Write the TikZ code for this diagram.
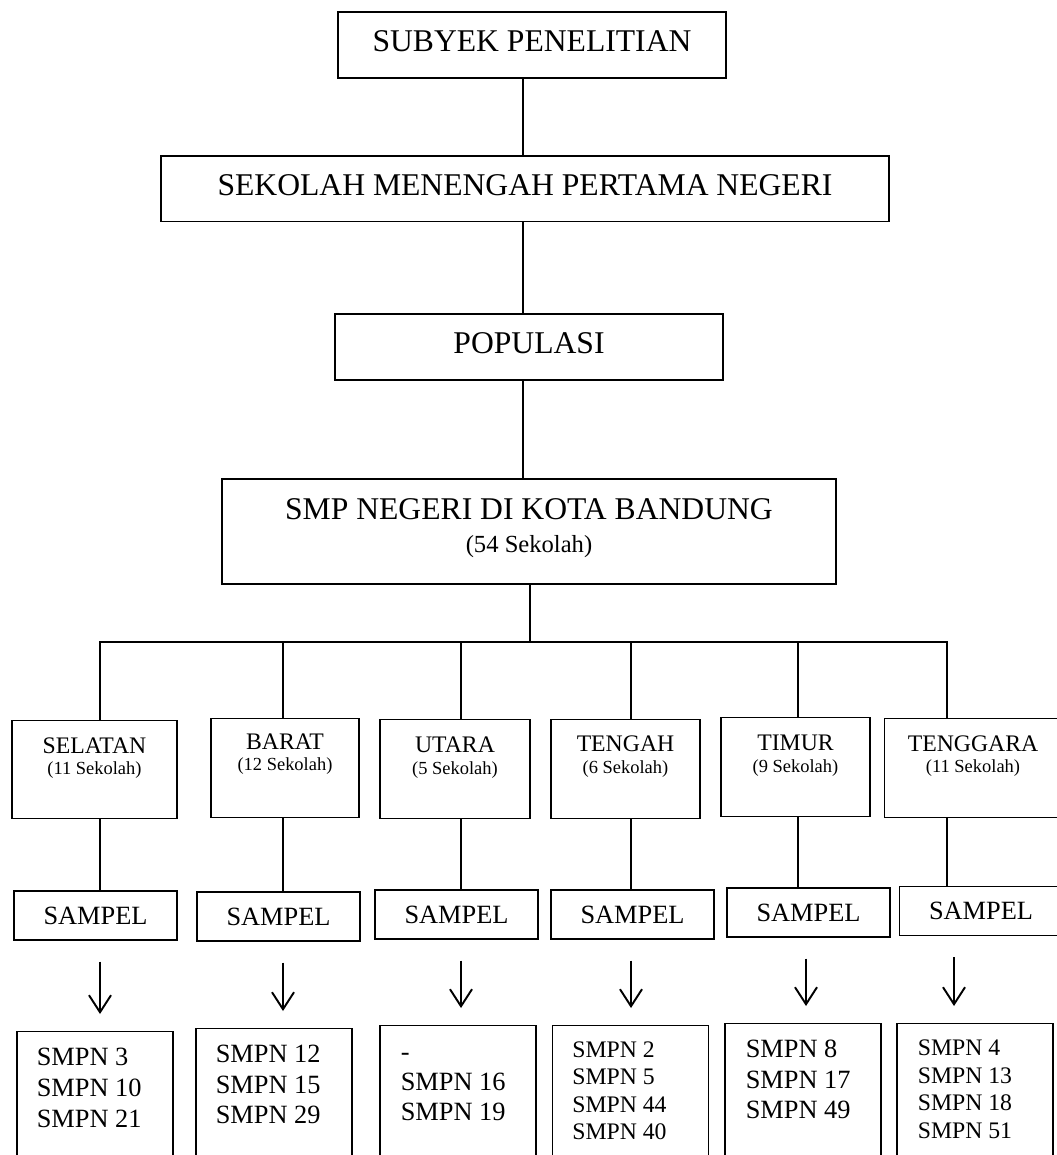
\documentclass[tikz,border=0pt]{standalone}
\usepackage{fontspec}
\setmainfont{Liberation Serif}
\usetikzlibrary{arrows.meta}
\tikzset{
  kotak/.style={draw,line width=0.6pt,inner sep=0pt,align=center},
  besar/.style={font=\fontsize{18}{16.4}\selectfont,text depth=0.16cm},
  wilayah/.style={kotak,minimum height=1.97cm},
  wiltxt/.style={inner sep=0pt,align=center,anchor=north,font=\fontsize{13.5}{12.3}\selectfont},
  sampel/.style={kotak,minimum width=3.26cm,minimum height=0.98cm,font=\fontsize{15}{18}\selectfont},
  daftar/.style={draw,line width=0.6pt,minimum width=3.12cm,minimum height=3.6cm,anchor=north},
  daftartxt/.style={inner sep=0pt,align=left,anchor=north west},
  garis/.style={line width=1.05pt},
  tebal/.style={line width=1.3pt},
  panah/.style={line width=1.1pt,-{Straight Barb[length=0.34cm,width=0.44cm]},shorten <=0.42cm,shorten >=0.34cm}
}
\newcommand{\kecil}{\fontsize{10.5}{12}\selectfont}

\begin{document}
\begin{tikzpicture}
  \useasboundingbox (0,0) rectangle (21.12,-23.1);
  % poros dan titik cabang
  \coordinate (poros) at (10.46,0);
  \coordinate (bus) at (10.6,-12.84);
  \coordinate (k1) at (2.0,-12.84);
  \coordinate (k2) at (5.66,-12.84);
  \coordinate (k3) at (9.22,-12.84);
  \coordinate (k4) at (12.62,-12.84);
  \coordinate (k5) at (15.96,-12.84);
  \coordinate (k6) at (18.94,-12.84);
  \coordinate (p5) at (16.12,0);
  \coordinate (p6) at (19.08,0);

  % bagian atas
  \node[kotak,besar,minimum width=7.76cm,minimum height=1.32cm] (subyek) at (10.64,-0.9) {SUBYEK PENELITIAN};
  \node[kotak,besar,minimum width=14.56cm,minimum height=1.31cm] (smpn) at (10.5,-3.775) {SEKOLAH MENENGAH PERTAMA NEGERI};
  \node[kotak,besar,minimum width=7.76cm,minimum height=1.32cm] (populasi) at (10.58,-6.94) {POPULASI};
  \node[kotak,font=\fontsize{18}{18.8}\selectfont,text depth=0.24cm,minimum width=12.28cm,minimum height=2.1cm] (bandung) at (10.58,-10.63)
    {SMP NEGERI DI KOTA BANDUNG\\{\fontsize{14}{16}\selectfont (54 Sekolah)}};

  \draw[garis] (subyek.south -| poros) -- (smpn.north -| poros);
  \draw[garis] (smpn.south -| poros) -- (populasi.north -| poros);
  \draw[garis] (populasi.south -| poros) -- (bandung.north -| poros);
  \draw[garis] (bandung.south -| bus) -- (bus);

  % wilayah
  \node[wilayah,minimum width=3.3cm] (selatan) at (1.89,-15.39) {};
  \node[wilayah,minimum width=2.96cm] (barat) at (5.7,-15.36) {};
  \node[wilayah,minimum width=3.0cm] (utara) at (9.1,-15.38) {};
  \node[wilayah,minimum width=2.98cm] (tengah) at (12.51,-15.38) {};
  \node[wilayah,minimum width=2.98cm] (timur) at (15.91,-15.34) {};
  \node[wilayah,minimum width=3.54cm] (tenggara) at (19.46,-15.36) {};
  \node[wiltxt] (tselatan) at ([yshift=-0.35cm]selatan.north) {SELATAN\\{\kecil(11 Sekolah)}};
  \node[wiltxt] (tbarat) at ([yshift=-0.3cm]barat.north) {BARAT\\{\kecil(12 Sekolah)}};
  \node[wiltxt] (tutara) at ([yshift=-0.35cm]utara.north) {UTARA\\{\kecil(5 Sekolah)}};
  \node[wiltxt] (ttengah) at ([yshift=-0.33cm]tengah.north) {TENGAH\\{\kecil(6 Sekolah)}};
  \node[wiltxt] (ttimur) at ([yshift=-0.35cm]timur.north) {TIMUR\\{\kecil(9 Sekolah)}};
  \node[wiltxt] (ttenggara) at ([yshift=-0.34cm]tenggara.north) {TENGGARA\\{\kecil(11 Sekolah)}};

  \draw[tebal] (selatan.north -| k1) -- (k1) -- (k6) -- (tenggara.north -| k6);
  \draw[tebal] (k2) -- (barat.north -| k2);
  \draw[tebal] (k3) -- (utara.north -| k3);
  \draw[tebal] (k4) -- (tengah.north -| k4);
  \draw[tebal] (k5) -- (timur.north -| k5);

  % sampel
  \node[sampel] (s1) at (1.91,-18.31) {SAMPEL};
  \node[sampel] (s2) at (5.57,-18.33) {SAMPEL};
  \node[sampel] (s3) at (9.13,-18.29) {SAMPEL};
  \node[sampel] (s4) at (12.65,-18.29) {SAMPEL};
  \node[sampel] (s5) at (16.17,-18.25) {SAMPEL};
  \node[sampel] (s6) at (19.62,-18.22) {SAMPEL};

  \draw[tebal] (selatan.south -| k1) -- (s1.north -| k1);
  \draw[tebal] (barat.south -| k2) -- (s2.north -| k2);
  \draw[tebal] (utara.south -| k3) -- (s3.north -| k3);
  \draw[tebal] (tengah.south -| k4) -- (s4.north -| k4);
  \draw[tebal] (timur.south -| k5) -- (s5.north -| k5);
  \draw[tebal] (tenggara.south -| k6) -- (s6.north -| k6);

  % daftar sekolah
  \node[daftar] (l1) at (1.9,-20.62) {};
  \node[daftar] (l2) at (5.48,-20.56) {};
  \node[daftar] (l3) at (9.16,-20.5) {};
  \node[daftar] (l4) at (12.61,-20.5) {};
  \node[daftar] (l5) at (16.06,-20.46) {};
  \node[daftar] (l6) at (19.5,-20.46) {};
  \node[daftartxt,font=\fontsize{15}{17.6}\selectfont] (tl1) at ([xshift=0.4cm,yshift=-0.34cm]l1.north west) {SMPN 3\\SMPN 10\\SMPN 21};
  \node[daftartxt,font=\fontsize{15}{17.3}\selectfont] (tl2) at ([xshift=0.4cm,yshift=-0.34cm]l2.north west) {SMPN 12\\SMPN 15\\SMPN 29};
  \node[daftartxt,font=\fontsize{15}{17}\selectfont] (tl3) at ([xshift=0.42cm,yshift=-0.36cm]l3.north west) {\vphantom{S}-\\SMPN 16\\SMPN 19};
  \node[daftartxt,font=\fontsize{13.5}{15.7}\selectfont] (tl4) at ([xshift=0.4cm,yshift=-0.32cm]l4.north west) {SMPN 2\\SMPN 5\\SMPN 44\\SMPN 40};
  \node[daftartxt,font=\fontsize{15}{17.2}\selectfont] (tl5) at ([xshift=0.42cm,yshift=-0.34cm]l5.north west) {SMPN 8\\SMPN 17\\SMPN 49};
  \node[daftartxt,font=\fontsize{13.5}{15.9}\selectfont] (tl6) at ([xshift=0.42cm,yshift=-0.32cm]l6.north west) {SMPN 4\\SMPN 13\\SMPN 18\\SMPN 51};

  \draw[panah] (s1.south -| k1) -- (l1.north -| k1);
  \draw[panah] (s2.south -| k2) -- (l2.north -| k2);
  \draw[panah] (s3.south -| k3) -- (l3.north -| k3);
  \draw[panah] (s4.south -| k4) -- (l4.north -| k4);
  \draw[panah] (s5.south -| p5) -- (l5.north -| p5);
  \draw[panah] (s6.south -| p6) -- (l6.north -| p6);
\end{tikzpicture}
\end{document}
